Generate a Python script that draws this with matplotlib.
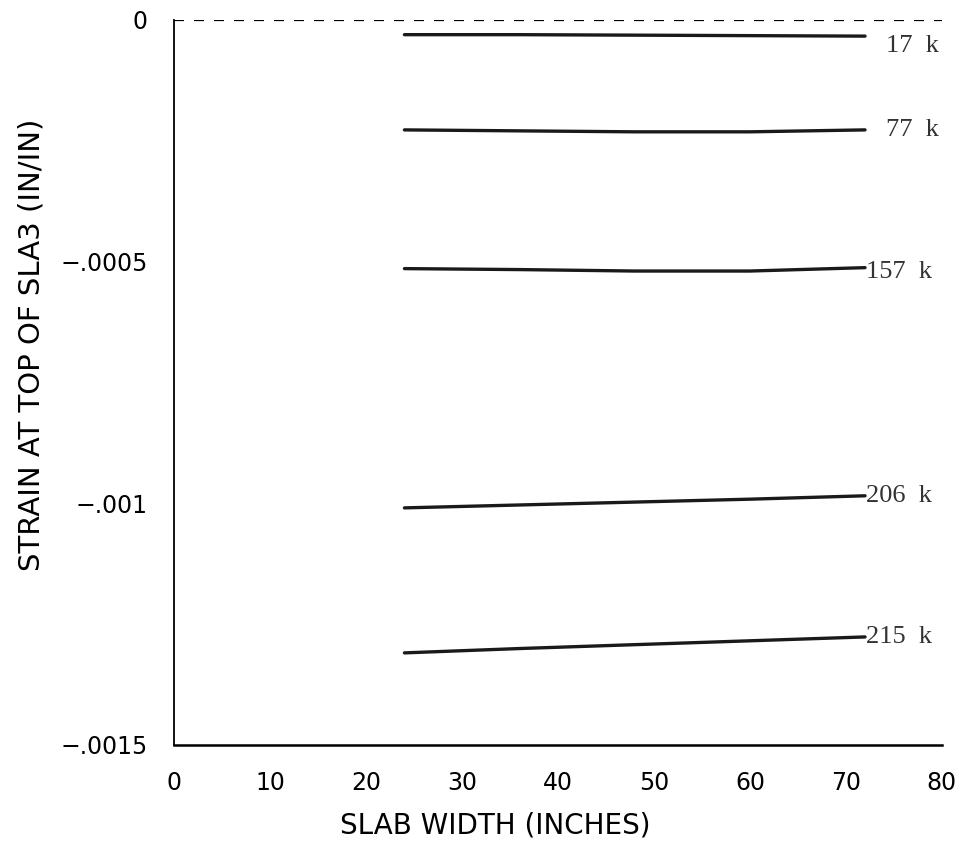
import numpy as np
import matplotlib
matplotlib.use("Agg")
import matplotlib.pyplot as plt

# slab width positions (inches)
width = [24, 36, 48, 60, 72]

# strain at top of slab for each load level
loads = ["17 k", "77 k", "157 k", "206 k", "215 k"]
s_17 = [-0.000031, -0.000031, -0.000032, -0.000033, -0.000034]
s_77 = [-0.000228, -0.000230, -0.000232, -0.000232, -0.000228]
s_157 = [-0.000515, -0.000517, -0.000520, -0.000520, -0.000513]
s_206 = [-0.001010, -0.001004, -0.000998, -0.000992, -0.000985]
s_215 = [-0.001310, -0.001301, -0.001293, -0.001285, -0.001277]
strains = [s_17, s_77, s_157, s_206, s_215]

x_ticks = [0, 10, 20, 30, 40, 50, 60, 70, 80]
y_ticks = [0, -0.0005, -0.001, -0.0015]
y_ticklabels = ["0", "\u2212.0005", "\u2212.001", "\u2212.0015"]

# label offsets (points) from line end
offsets = [(15, -7), (15, 0), (1, -3), (1, 0), (1, 0)]

fig = plt.figure(figsize=(9.62, 8.56), dpi=100)
ax = fig.add_axes([0.181, 0.130, 0.798, 0.847])

for lab, s, off in zip(loads, strains, offsets):
    ax.plot(width, s, color="#1a1a1a", lw=2.4, solid_capstyle="round")
    ax.annotate(lab.replace(" ", "  "), (width[-1], s[-1]), xytext=off,
                textcoords="offset points", ha="left", va="center",
                fontsize=19, family="Liberation Serif", color="#333333")

# dashed zero line along the top
ax.axhline(0, color="black", lw=1.6, ls=(0, (4.5, 4.5)))

ax.set_xlim(0, 80)
ax.set_ylim(-0.0015, 0)
ax.set_xticks(x_ticks)
ax.set_yticks(y_ticks)
ax.set_yticklabels(y_ticklabels)
ax.tick_params(length=0, labelsize=17)
ax.tick_params(axis="x", pad=19)
ax.tick_params(axis="y", pad=19)
for t in ax.get_xticklabels() + ax.get_yticklabels():
    t.set_family("DejaVu Sans")

ax.spines["top"].set_visible(False)
ax.spines["right"].set_visible(False)
ax.spines["left"].set_linewidth(1.3)
ax.spines["bottom"].set_linewidth(1.8)

ax.set_xlabel("SLAB WIDTH (INCHES)", fontsize=20, family="DejaVu Sans")
ax.set_ylabel("STRAIN AT TOP OF SLA3 (IN/IN)", fontsize=21, family="DejaVu Sans")
ax.xaxis.set_label_coords(0.418, -0.092)
ax.yaxis.set_label_coords(-0.168, 0.552)

fig.savefig("out.png", dpi=100, facecolor="white")
